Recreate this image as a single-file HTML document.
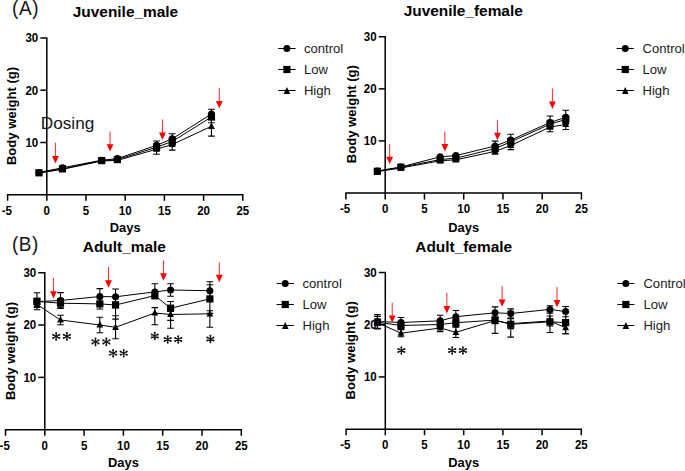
<!DOCTYPE html>
<html><head><meta charset="utf-8"><title>Body weight charts</title>
<style>html,body{margin:0;padding:0;background:#fff;}body{width:685px;height:471px;overflow:hidden;}svg{display:block;font-family:"Liberation Sans", sans-serif;}</style>
</head><body>
<svg width="685" height="471" viewBox="0 0 685 471">
<rect width="685" height="471" fill="#fff"/>
<g><path d="M7.60 200.80V194.80H242.80V200.80" stroke="#000" stroke-width="1.5" fill="none"/><path d="M40.30 37.90H46.80V200.80" stroke="#000" stroke-width="1.5" fill="none"/><path d="M86.00 194.80V200.80" stroke="#000" stroke-width="1.5"/><path d="M125.20 194.80V200.80" stroke="#000" stroke-width="1.5"/><path d="M164.40 194.80V200.80" stroke="#000" stroke-width="1.5"/><path d="M203.60 194.80V200.80" stroke="#000" stroke-width="1.5"/><path d="M40.30 142.50H46.80" stroke="#000" stroke-width="1.5"/><path d="M40.30 90.20H46.80" stroke="#000" stroke-width="1.5"/><text transform="translate(6.80 214.60) scale(0.900 1)" font-size="12.8" font-weight="bold" text-anchor="middle" fill="#000">-5</text><text transform="translate(46.80 214.60) scale(0.900 1)" font-size="12.8" font-weight="bold" text-anchor="middle" fill="#000">0</text><text transform="translate(86.00 214.60) scale(0.900 1)" font-size="12.8" font-weight="bold" text-anchor="middle" fill="#000">5</text><text transform="translate(125.20 214.60) scale(0.900 1)" font-size="12.8" font-weight="bold" text-anchor="middle" fill="#000">10</text><text transform="translate(164.40 214.60) scale(0.900 1)" font-size="12.8" font-weight="bold" text-anchor="middle" fill="#000">15</text><text transform="translate(203.60 214.60) scale(0.900 1)" font-size="12.8" font-weight="bold" text-anchor="middle" fill="#000">20</text><text transform="translate(242.80 214.60) scale(0.900 1)" font-size="12.8" font-weight="bold" text-anchor="middle" fill="#000">25</text><text transform="translate(38.20 146.80) scale(0.900 1)" font-size="12.8" font-weight="bold" text-anchor="end" fill="#000">10</text><text transform="translate(38.20 94.50) scale(0.900 1)" font-size="12.8" font-weight="bold" text-anchor="end" fill="#000">20</text><text transform="translate(38.20 42.20) scale(0.900 1)" font-size="12.8" font-weight="bold" text-anchor="end" fill="#000">30</text><text transform="translate(125.20 232.40)" font-size="12.9" font-weight="bold" text-anchor="middle" fill="#000">Days</text><text transform="translate(16.10 116.00) rotate(-90)" font-size="13.1" font-weight="bold" text-anchor="middle" fill="#000">Body weight (g)</text><text transform="translate(72.80 16.60) scale(1.015 1)" font-size="15.2" font-weight="bold" fill="#000">Juvenile_male</text><text transform="translate(12.10 14.80) scale(0.950 1)" font-size="20" letter-spacing="0.55" fill="#151515">(A)</text><polyline points="38.96,172.40 62.48,167.80 101.68,160.20 117.36,158.60 156.56,145.30 172.24,138.80 211.44,114.00" stroke="#000" stroke-width="1.0" fill="none"/><polyline points="38.96,172.80 62.48,168.90 101.68,160.60 117.36,159.60 156.56,147.20 172.24,141.50 211.44,117.00" stroke="#000" stroke-width="1.0" fill="none"/><polyline points="38.96,173.00 62.48,169.30 101.68,161.00 117.36,160.40 156.56,149.20 172.24,144.50 211.44,126.30" stroke="#000" stroke-width="1.0" fill="none"/><path d="M156.56 141.00V145.30M153.26 141.00H159.86" stroke="#000" stroke-width="1.1" fill="none"/><path d="M156.56 145.30V149.60M153.26 149.60H159.86" stroke="#000" stroke-width="1.1" fill="none"/><path d="M172.24 133.80V138.80M168.94 133.80H175.54" stroke="#000" stroke-width="1.1" fill="none"/><path d="M172.24 138.80V143.80M168.94 143.80H175.54" stroke="#000" stroke-width="1.1" fill="none"/><path d="M211.44 109.30V114.00M208.14 109.30H214.74" stroke="#000" stroke-width="1.1" fill="none"/><path d="M211.44 114.00V118.70M208.14 118.70H214.74" stroke="#000" stroke-width="1.1" fill="none"/><path d="M156.56 143.70V147.20M153.26 143.70H159.86" stroke="#000" stroke-width="1.1" fill="none"/><path d="M156.56 147.20V150.70M153.26 150.70H159.86" stroke="#000" stroke-width="1.1" fill="none"/><path d="M172.24 137.50V141.50M168.94 137.50H175.54" stroke="#000" stroke-width="1.1" fill="none"/><path d="M172.24 141.50V145.50M168.94 145.50H175.54" stroke="#000" stroke-width="1.1" fill="none"/><path d="M211.44 113.50V117.00M208.14 113.50H214.74" stroke="#000" stroke-width="1.1" fill="none"/><path d="M211.44 117.00V122.70M208.14 122.70H214.74" stroke="#000" stroke-width="1.1" fill="none"/><path d="M156.56 144.20V149.20M153.26 144.20H159.86" stroke="#000" stroke-width="1.1" fill="none"/><path d="M156.56 149.20V154.20M153.26 154.20H159.86" stroke="#000" stroke-width="1.1" fill="none"/><path d="M172.24 138.90V144.50M168.94 138.90H175.54" stroke="#000" stroke-width="1.1" fill="none"/><path d="M172.24 144.50V150.10M168.94 150.10H175.54" stroke="#000" stroke-width="1.1" fill="none"/><path d="M211.44 116.50V126.30M208.14 116.50H214.74" stroke="#000" stroke-width="1.1" fill="none"/><path d="M211.44 126.30V136.10M208.14 136.10H214.74" stroke="#000" stroke-width="1.1" fill="none"/><path d="M38.96 169.10 L42.36 175.60 L35.56 175.60Z" fill="#000"/><path d="M62.48 165.40 L65.88 171.90 L59.08 171.90Z" fill="#000"/><path d="M101.68 157.10 L105.08 163.60 L98.28 163.60Z" fill="#000"/><path d="M117.36 156.50 L120.76 163.00 L113.96 163.00Z" fill="#000"/><path d="M156.56 145.30 L159.96 151.80 L153.16 151.80Z" fill="#000"/><path d="M172.24 140.60 L175.64 147.10 L168.84 147.10Z" fill="#000"/><path d="M211.44 122.40 L214.84 128.90 L208.04 128.90Z" fill="#000"/><rect x="35.36" y="169.20" width="7.2" height="7.2" fill="#000"/><rect x="58.88" y="165.30" width="7.2" height="7.2" fill="#000"/><rect x="98.08" y="157.00" width="7.2" height="7.2" fill="#000"/><rect x="113.76" y="156.00" width="7.2" height="7.2" fill="#000"/><rect x="152.96" y="143.60" width="7.2" height="7.2" fill="#000"/><rect x="168.64" y="137.90" width="7.2" height="7.2" fill="#000"/><rect x="207.84" y="113.40" width="7.2" height="7.2" fill="#000"/><circle cx="38.96" cy="172.40" r="3.50" fill="#000"/><circle cx="62.48" cy="167.80" r="3.50" fill="#000"/><circle cx="101.68" cy="160.20" r="3.50" fill="#000"/><circle cx="117.36" cy="158.60" r="3.50" fill="#000"/><circle cx="156.56" cy="145.30" r="3.50" fill="#000"/><circle cx="172.24" cy="138.80" r="3.50" fill="#000"/><circle cx="211.44" cy="114.00" r="3.50" fill="#000"/><path d="M55.42 142.80V157.60" stroke="#ff0000" stroke-width="0.85"/><path d="M52.02 156.00H58.82L55.42 163.40Z" fill="#ff0000"/><path d="M110.07 131.50V145.80" stroke="#ff0000" stroke-width="0.85"/><path d="M106.67 144.20H113.47L110.07 151.60Z" fill="#ff0000"/><path d="M162.44 119.50V134.00" stroke="#ff0000" stroke-width="0.85"/><path d="M159.04 132.40H165.84L162.44 139.80Z" fill="#ff0000"/><path d="M219.28 88.20V102.50" stroke="#ff0000" stroke-width="0.85"/><path d="M215.88 100.90H222.68L219.28 108.30Z" fill="#ff0000"/><path d="M278.20 48.50H295.60" stroke="#000" stroke-width="1.0"/><circle cx="286.90" cy="48.50" r="3.50" fill="#000"/><text transform="translate(303.90 53.30)" font-size="13.1" fill="#1a1a1a">control</text><path d="M278.20 69.50H295.60" stroke="#000" stroke-width="1.0"/><rect x="283.30" y="65.90" width="7.2" height="7.2" fill="#000"/><text transform="translate(303.90 74.30)" font-size="13.1" fill="#1a1a1a">Low</text><path d="M278.20 90.50H295.60" stroke="#000" stroke-width="1.0"/><path d="M286.90 87.00 L290.20 93.90 L283.60 93.90Z" fill="#000"/><text transform="translate(303.90 95.30)" font-size="13.1" fill="#1a1a1a">High</text><text transform="translate(40.80 129.10)" font-size="17.2" fill="#151515">Dosing</text></g>
<g><path d="M345.95 199.60V193.00H581.45V199.60" stroke="#000" stroke-width="1.5" fill="none"/><path d="M378.70 36.80H385.20V199.60" stroke="#000" stroke-width="1.5" fill="none"/><path d="M424.45 193.00V199.60" stroke="#000" stroke-width="1.5"/><path d="M463.70 193.00V199.60" stroke="#000" stroke-width="1.5"/><path d="M502.95 193.00V199.60" stroke="#000" stroke-width="1.5"/><path d="M542.20 193.00V199.60" stroke="#000" stroke-width="1.5"/><path d="M378.70 140.93H385.20" stroke="#000" stroke-width="1.5"/><path d="M378.70 88.87H385.20" stroke="#000" stroke-width="1.5"/><text transform="translate(345.15 212.80) scale(0.900 1)" font-size="12.8" font-weight="bold" text-anchor="middle" fill="#000">-5</text><text transform="translate(385.20 212.80) scale(0.900 1)" font-size="12.8" font-weight="bold" text-anchor="middle" fill="#000">0</text><text transform="translate(424.45 212.80) scale(0.900 1)" font-size="12.8" font-weight="bold" text-anchor="middle" fill="#000">5</text><text transform="translate(463.70 212.80) scale(0.900 1)" font-size="12.8" font-weight="bold" text-anchor="middle" fill="#000">10</text><text transform="translate(502.95 212.80) scale(0.900 1)" font-size="12.8" font-weight="bold" text-anchor="middle" fill="#000">15</text><text transform="translate(542.20 212.80) scale(0.900 1)" font-size="12.8" font-weight="bold" text-anchor="middle" fill="#000">20</text><text transform="translate(581.45 212.80) scale(0.900 1)" font-size="12.8" font-weight="bold" text-anchor="middle" fill="#000">25</text><text transform="translate(376.60 145.23) scale(0.900 1)" font-size="12.8" font-weight="bold" text-anchor="end" fill="#000">10</text><text transform="translate(376.60 93.17) scale(0.900 1)" font-size="12.8" font-weight="bold" text-anchor="end" fill="#000">20</text><text transform="translate(376.60 41.10) scale(0.900 1)" font-size="12.8" font-weight="bold" text-anchor="end" fill="#000">30</text><text transform="translate(463.70 231.80)" font-size="12.9" font-weight="bold" text-anchor="middle" fill="#000">Days</text><text transform="translate(355.70 114.20) rotate(-90)" font-size="13.1" font-weight="bold" text-anchor="middle" fill="#000">Body weight (g)</text><text transform="translate(403.70 16.40) scale(1.015 1)" font-size="15.2" font-weight="bold" fill="#000">Juvenile_female</text><polyline points="377.35,171.00 400.90,167.00 440.15,156.80 455.85,155.60 495.10,146.00 510.80,140.00 550.05,122.50 565.75,117.30" stroke="#000" stroke-width="1.0" fill="none"/><polyline points="377.35,171.30 400.90,167.20 440.15,159.60 455.85,158.20 495.10,148.50 510.80,141.80 550.05,124.20 565.75,119.50" stroke="#000" stroke-width="1.0" fill="none"/><polyline points="377.35,171.60 400.90,168.00 440.15,160.80 455.85,159.80 495.10,151.40 510.80,145.50 550.05,127.00 565.75,124.50" stroke="#000" stroke-width="1.0" fill="none"/><path d="M495.10 141.10V146.00M491.80 141.10H498.40" stroke="#000" stroke-width="1.1" fill="none"/><path d="M495.10 146.00V150.90M491.80 150.90H498.40" stroke="#000" stroke-width="1.1" fill="none"/><path d="M510.80 134.30V140.00M507.50 134.30H514.10" stroke="#000" stroke-width="1.1" fill="none"/><path d="M510.80 140.00V145.70M507.50 145.70H514.10" stroke="#000" stroke-width="1.1" fill="none"/><path d="M550.05 116.00V122.50M546.75 116.00H553.35" stroke="#000" stroke-width="1.1" fill="none"/><path d="M550.05 122.50V129.00M546.75 129.00H553.35" stroke="#000" stroke-width="1.1" fill="none"/><path d="M565.75 110.30V117.30M562.45 110.30H569.05" stroke="#000" stroke-width="1.1" fill="none"/><path d="M565.75 117.30V124.30M562.45 124.30H569.05" stroke="#000" stroke-width="1.1" fill="none"/><path d="M495.10 145.50V148.50M491.80 145.50H498.40" stroke="#000" stroke-width="1.1" fill="none"/><path d="M495.10 148.50V151.50M491.80 151.50H498.40" stroke="#000" stroke-width="1.1" fill="none"/><path d="M510.80 138.80V141.80M507.50 138.80H514.10" stroke="#000" stroke-width="1.1" fill="none"/><path d="M510.80 141.80V144.80M507.50 144.80H514.10" stroke="#000" stroke-width="1.1" fill="none"/><path d="M550.05 120.20V124.20M546.75 120.20H553.35" stroke="#000" stroke-width="1.1" fill="none"/><path d="M550.05 124.20V128.20M546.75 128.20H553.35" stroke="#000" stroke-width="1.1" fill="none"/><path d="M565.75 115.50V119.50M562.45 115.50H569.05" stroke="#000" stroke-width="1.1" fill="none"/><path d="M565.75 119.50V123.50M562.45 123.50H569.05" stroke="#000" stroke-width="1.1" fill="none"/><path d="M495.10 148.50V151.40M491.80 148.50H498.40" stroke="#000" stroke-width="1.1" fill="none"/><path d="M495.10 151.40V154.30M491.80 154.30H498.40" stroke="#000" stroke-width="1.1" fill="none"/><path d="M510.80 141.40V145.50M507.50 141.40H514.10" stroke="#000" stroke-width="1.1" fill="none"/><path d="M510.80 145.50V149.60M507.50 149.60H514.10" stroke="#000" stroke-width="1.1" fill="none"/><path d="M550.05 122.20V127.00M546.75 122.20H553.35" stroke="#000" stroke-width="1.1" fill="none"/><path d="M550.05 127.00V131.80M546.75 131.80H553.35" stroke="#000" stroke-width="1.1" fill="none"/><path d="M565.75 119.50V124.50M562.45 119.50H569.05" stroke="#000" stroke-width="1.1" fill="none"/><path d="M565.75 124.50V129.50M562.45 129.50H569.05" stroke="#000" stroke-width="1.1" fill="none"/><path d="M377.35 167.70 L380.75 174.20 L373.95 174.20Z" fill="#000"/><path d="M400.90 164.10 L404.30 170.60 L397.50 170.60Z" fill="#000"/><path d="M440.15 156.90 L443.55 163.40 L436.75 163.40Z" fill="#000"/><path d="M455.85 155.90 L459.25 162.40 L452.45 162.40Z" fill="#000"/><path d="M495.10 147.50 L498.50 154.00 L491.70 154.00Z" fill="#000"/><path d="M510.80 141.60 L514.20 148.10 L507.40 148.10Z" fill="#000"/><path d="M550.05 123.10 L553.45 129.60 L546.65 129.60Z" fill="#000"/><path d="M565.75 120.60 L569.15 127.10 L562.35 127.10Z" fill="#000"/><rect x="373.75" y="167.70" width="7.2" height="7.2" fill="#000"/><rect x="397.30" y="163.60" width="7.2" height="7.2" fill="#000"/><rect x="436.55" y="156.00" width="7.2" height="7.2" fill="#000"/><rect x="452.25" y="154.60" width="7.2" height="7.2" fill="#000"/><rect x="491.50" y="144.90" width="7.2" height="7.2" fill="#000"/><rect x="507.20" y="138.20" width="7.2" height="7.2" fill="#000"/><rect x="546.45" y="120.60" width="7.2" height="7.2" fill="#000"/><rect x="562.15" y="115.90" width="7.2" height="7.2" fill="#000"/><circle cx="377.35" cy="171.00" r="3.50" fill="#000"/><circle cx="400.90" cy="167.00" r="3.50" fill="#000"/><circle cx="440.15" cy="156.80" r="3.50" fill="#000"/><circle cx="455.85" cy="155.60" r="3.50" fill="#000"/><circle cx="495.10" cy="146.00" r="3.50" fill="#000"/><circle cx="510.80" cy="140.00" r="3.50" fill="#000"/><circle cx="550.05" cy="122.50" r="3.50" fill="#000"/><circle cx="565.75" cy="117.30" r="3.50" fill="#000"/><path d="M389.67 143.90V158.30" stroke="#ff0000" stroke-width="0.85"/><path d="M386.27 156.70H393.07L389.67 164.10Z" fill="#ff0000"/><path d="M444.86 131.50V145.60" stroke="#ff0000" stroke-width="0.85"/><path d="M441.46 144.00H448.26L444.86 151.40Z" fill="#ff0000"/><path d="M497.45 120.20V134.30" stroke="#ff0000" stroke-width="0.85"/><path d="M494.06 132.70H500.85L497.45 140.10Z" fill="#ff0000"/><path d="M552.40 88.60V103.20" stroke="#ff0000" stroke-width="0.85"/><path d="M549.00 101.60H555.80L552.40 109.00Z" fill="#ff0000"/><path d="M616.60 48.50H633.90" stroke="#000" stroke-width="1.0"/><circle cx="625.25" cy="48.50" r="3.50" fill="#000"/><text transform="translate(642.50 53.30)" font-size="13.1" fill="#1a1a1a">Control</text><path d="M616.60 69.50H633.90" stroke="#000" stroke-width="1.0"/><rect x="621.65" y="65.90" width="7.2" height="7.2" fill="#000"/><text transform="translate(642.50 74.30)" font-size="13.1" fill="#1a1a1a">Low</text><path d="M616.60 90.50H633.90" stroke="#000" stroke-width="1.0"/><path d="M625.25 87.00 L628.55 93.90 L621.95 93.90Z" fill="#000"/><text transform="translate(642.50 95.30)" font-size="13.1" fill="#1a1a1a">High</text></g>
<g><path d="M5.50 435.70V429.70H241.30V435.70" stroke="#000" stroke-width="1.5" fill="none"/><path d="M38.30 272.70H44.80V435.70" stroke="#000" stroke-width="1.5" fill="none"/><path d="M84.10 429.70V435.70" stroke="#000" stroke-width="1.5"/><path d="M123.40 429.70V435.70" stroke="#000" stroke-width="1.5"/><path d="M162.70 429.70V435.70" stroke="#000" stroke-width="1.5"/><path d="M202.00 429.70V435.70" stroke="#000" stroke-width="1.5"/><path d="M38.30 377.37H44.80" stroke="#000" stroke-width="1.5"/><path d="M38.30 325.03H44.80" stroke="#000" stroke-width="1.5"/><text transform="translate(4.70 449.50) scale(0.900 1)" font-size="12.8" font-weight="bold" text-anchor="middle" fill="#000">-5</text><text transform="translate(44.80 449.50) scale(0.900 1)" font-size="12.8" font-weight="bold" text-anchor="middle" fill="#000">0</text><text transform="translate(84.10 449.50) scale(0.900 1)" font-size="12.8" font-weight="bold" text-anchor="middle" fill="#000">5</text><text transform="translate(123.40 449.50) scale(0.900 1)" font-size="12.8" font-weight="bold" text-anchor="middle" fill="#000">10</text><text transform="translate(162.70 449.50) scale(0.900 1)" font-size="12.8" font-weight="bold" text-anchor="middle" fill="#000">15</text><text transform="translate(202.00 449.50) scale(0.900 1)" font-size="12.8" font-weight="bold" text-anchor="middle" fill="#000">20</text><text transform="translate(241.30 449.50) scale(0.900 1)" font-size="12.8" font-weight="bold" text-anchor="middle" fill="#000">25</text><text transform="translate(36.20 381.67) scale(0.900 1)" font-size="12.8" font-weight="bold" text-anchor="end" fill="#000">10</text><text transform="translate(36.20 329.33) scale(0.900 1)" font-size="12.8" font-weight="bold" text-anchor="end" fill="#000">20</text><text transform="translate(36.20 277.00) scale(0.900 1)" font-size="12.8" font-weight="bold" text-anchor="end" fill="#000">30</text><text transform="translate(123.40 467.30)" font-size="12.9" font-weight="bold" text-anchor="middle" fill="#000">Days</text><text transform="translate(15.30 351.00) rotate(-90)" font-size="13.1" font-weight="bold" text-anchor="middle" fill="#000">Body weight (g)</text><text transform="translate(82.80 251.50) scale(1.015 1)" font-size="15.2" font-weight="bold" fill="#000">Adult_male</text><text transform="translate(11.90 251.00) scale(0.950 1)" font-size="20" letter-spacing="0.55" fill="#151515">(B)</text><polyline points="36.94,301.60 60.52,300.50 99.82,296.50 115.54,296.80 154.84,291.90 170.56,290.00 209.86,290.70" stroke="#000" stroke-width="1.0" fill="none"/><polyline points="36.94,301.40 60.52,303.20 99.82,303.90 115.54,305.00 154.84,295.60 170.56,308.20 209.86,298.90" stroke="#000" stroke-width="1.0" fill="none"/><polyline points="36.94,304.40 60.52,320.00 99.82,325.00 115.54,327.30 154.84,313.00 170.56,314.50 209.86,313.80" stroke="#000" stroke-width="1.0" fill="none"/><path d="M36.94 292.70V301.60M33.64 292.70H40.24" stroke="#000" stroke-width="1.1" fill="none"/><path d="M36.94 301.60V304.60M33.64 304.60H40.24" stroke="#000" stroke-width="1.1" fill="none"/><path d="M60.52 292.60V300.50M57.22 292.60H63.82" stroke="#000" stroke-width="1.1" fill="none"/><path d="M60.52 300.50V308.40M57.22 308.40H63.82" stroke="#000" stroke-width="1.1" fill="none"/><path d="M99.82 288.60V296.50M96.52 288.60H103.12" stroke="#000" stroke-width="1.1" fill="none"/><path d="M99.82 296.50V304.40M96.52 304.40H103.12" stroke="#000" stroke-width="1.1" fill="none"/><path d="M115.54 289.00V296.80M112.24 289.00H118.84" stroke="#000" stroke-width="1.1" fill="none"/><path d="M115.54 296.80V304.60M112.24 304.60H118.84" stroke="#000" stroke-width="1.1" fill="none"/><path d="M154.84 283.70V291.90M151.54 283.70H158.14" stroke="#000" stroke-width="1.1" fill="none"/><path d="M154.84 291.90V295.90M151.54 295.90H158.14" stroke="#000" stroke-width="1.1" fill="none"/><path d="M170.56 283.70V290.00M167.26 283.70H173.86" stroke="#000" stroke-width="1.1" fill="none"/><path d="M170.56 290.00V296.30M167.26 296.30H173.86" stroke="#000" stroke-width="1.1" fill="none"/><path d="M209.86 281.80V290.70M206.56 281.80H213.16" stroke="#000" stroke-width="1.1" fill="none"/><path d="M209.86 290.70V299.60M206.56 299.60H213.16" stroke="#000" stroke-width="1.1" fill="none"/><path d="M36.94 298.40V301.40M33.64 298.40H40.24" stroke="#000" stroke-width="1.1" fill="none"/><path d="M36.94 301.40V309.80M33.64 309.80H40.24" stroke="#000" stroke-width="1.1" fill="none"/><path d="M60.52 298.60V303.20M57.22 298.60H63.82" stroke="#000" stroke-width="1.1" fill="none"/><path d="M60.52 303.20V307.80M57.22 307.80H63.82" stroke="#000" stroke-width="1.1" fill="none"/><path d="M99.82 298.80V303.90M96.52 298.80H103.12" stroke="#000" stroke-width="1.1" fill="none"/><path d="M99.82 303.90V309.00M96.52 309.00H103.12" stroke="#000" stroke-width="1.1" fill="none"/><path d="M115.54 302.00V305.00M112.24 302.00H118.84" stroke="#000" stroke-width="1.1" fill="none"/><path d="M115.54 305.00V319.10M112.24 319.10H118.84" stroke="#000" stroke-width="1.1" fill="none"/><path d="M154.84 292.60V295.60M151.54 292.60H158.14" stroke="#000" stroke-width="1.1" fill="none"/><path d="M154.84 295.60V298.60M151.54 298.60H158.14" stroke="#000" stroke-width="1.1" fill="none"/><path d="M170.56 301.50V308.20M167.26 301.50H173.86" stroke="#000" stroke-width="1.1" fill="none"/><path d="M170.56 308.20V320.40M167.26 320.40H173.86" stroke="#000" stroke-width="1.1" fill="none"/><path d="M209.86 284.70V298.90M206.56 284.70H213.16" stroke="#000" stroke-width="1.1" fill="none"/><path d="M209.86 298.90V313.40M206.56 313.40H213.16" stroke="#000" stroke-width="1.1" fill="none"/><path d="M36.94 301.40V304.40M33.64 301.40H40.24" stroke="#000" stroke-width="1.1" fill="none"/><path d="M36.94 304.40V307.40M33.64 307.40H40.24" stroke="#000" stroke-width="1.1" fill="none"/><path d="M60.52 315.20V320.00M57.22 315.20H63.82" stroke="#000" stroke-width="1.1" fill="none"/><path d="M60.52 320.00V324.80M57.22 324.80H63.82" stroke="#000" stroke-width="1.1" fill="none"/><path d="M99.82 317.30V325.00M96.52 317.30H103.12" stroke="#000" stroke-width="1.1" fill="none"/><path d="M99.82 325.00V332.70M96.52 332.70H103.12" stroke="#000" stroke-width="1.1" fill="none"/><path d="M115.54 315.80V327.30M112.24 315.80H118.84" stroke="#000" stroke-width="1.1" fill="none"/><path d="M115.54 327.30V338.80M112.24 338.80H118.84" stroke="#000" stroke-width="1.1" fill="none"/><path d="M154.84 307.60V313.00M151.54 307.60H158.14" stroke="#000" stroke-width="1.1" fill="none"/><path d="M154.84 313.00V324.80M151.54 324.80H158.14" stroke="#000" stroke-width="1.1" fill="none"/><path d="M170.56 311.50V314.50M167.26 311.50H173.86" stroke="#000" stroke-width="1.1" fill="none"/><path d="M170.56 314.50V328.20M167.26 328.20H173.86" stroke="#000" stroke-width="1.1" fill="none"/><path d="M209.86 310.80V313.80M206.56 310.80H213.16" stroke="#000" stroke-width="1.1" fill="none"/><path d="M209.86 313.80V327.30M206.56 327.30H213.16" stroke="#000" stroke-width="1.1" fill="none"/><path d="M36.94 300.50 L40.34 307.00 L33.54 307.00Z" fill="#000"/><path d="M60.52 316.10 L63.92 322.60 L57.12 322.60Z" fill="#000"/><path d="M99.82 321.10 L103.22 327.60 L96.42 327.60Z" fill="#000"/><path d="M115.54 323.40 L118.94 329.90 L112.14 329.90Z" fill="#000"/><path d="M154.84 309.10 L158.24 315.60 L151.44 315.60Z" fill="#000"/><path d="M170.56 310.60 L173.96 317.10 L167.16 317.10Z" fill="#000"/><path d="M209.86 309.90 L213.26 316.40 L206.46 316.40Z" fill="#000"/><rect x="33.34" y="297.80" width="7.2" height="7.2" fill="#000"/><rect x="56.92" y="299.60" width="7.2" height="7.2" fill="#000"/><rect x="96.22" y="300.30" width="7.2" height="7.2" fill="#000"/><rect x="111.94" y="301.40" width="7.2" height="7.2" fill="#000"/><rect x="151.24" y="292.00" width="7.2" height="7.2" fill="#000"/><rect x="166.96" y="304.60" width="7.2" height="7.2" fill="#000"/><rect x="206.26" y="295.30" width="7.2" height="7.2" fill="#000"/><circle cx="36.94" cy="301.60" r="3.50" fill="#000"/><circle cx="60.52" cy="300.50" r="3.50" fill="#000"/><circle cx="99.82" cy="296.50" r="3.50" fill="#000"/><circle cx="115.54" cy="296.80" r="3.50" fill="#000"/><circle cx="154.84" cy="291.90" r="3.50" fill="#000"/><circle cx="170.56" cy="290.00" r="3.50" fill="#000"/><circle cx="209.86" cy="290.70" r="3.50" fill="#000"/><path d="M53.45 277.80V292.80" stroke="#ff0000" stroke-width="0.85"/><path d="M50.05 291.20H56.85L53.45 298.60Z" fill="#ff0000"/><path d="M108.47 267.00V281.90" stroke="#ff0000" stroke-width="0.85"/><path d="M105.07 280.30H111.87L108.47 287.70Z" fill="#ff0000"/><path d="M163.49 260.70V274.90" stroke="#ff0000" stroke-width="0.85"/><path d="M160.09 273.30H166.89L163.49 280.70Z" fill="#ff0000"/><path d="M219.29 262.60V276.40" stroke="#ff0000" stroke-width="0.85"/><path d="M215.89 274.80H222.69L219.29 282.20Z" fill="#ff0000"/><g fill="#15151c"><path d="M56.20 336.40L56.20 333.10M56.20 336.40L56.20 339.70M56.20 336.40L59.32 334.81M56.20 336.40L53.08 334.81M56.20 336.40L59.32 337.99M56.20 336.40L53.08 337.99" stroke="#15151c" stroke-width="1.25" fill="none"/><circle cx="56.20" cy="333.10" r="1.0"/><circle cx="56.20" cy="339.70" r="1.0"/><circle cx="59.32" cy="334.81" r="1.0"/><circle cx="53.08" cy="334.81" r="1.0"/><circle cx="59.32" cy="337.99" r="1.0"/><circle cx="53.08" cy="337.99" r="1.0"/></g><g fill="#15151c"><path d="M66.90 336.40L66.90 333.10M66.90 336.40L66.90 339.70M66.90 336.40L70.02 334.81M66.90 336.40L63.78 334.81M66.90 336.40L70.02 337.99M66.90 336.40L63.78 337.99" stroke="#15151c" stroke-width="1.25" fill="none"/><circle cx="66.90" cy="333.10" r="1.0"/><circle cx="66.90" cy="339.70" r="1.0"/><circle cx="70.02" cy="334.81" r="1.0"/><circle cx="63.78" cy="334.81" r="1.0"/><circle cx="70.02" cy="337.99" r="1.0"/><circle cx="63.78" cy="337.99" r="1.0"/></g><g fill="#15151c"><path d="M95.50 341.90L95.50 338.60M95.50 341.90L95.50 345.20M95.50 341.90L98.62 340.31M95.50 341.90L92.38 340.31M95.50 341.90L98.62 343.49M95.50 341.90L92.38 343.49" stroke="#15151c" stroke-width="1.25" fill="none"/><circle cx="95.50" cy="338.60" r="1.0"/><circle cx="95.50" cy="345.20" r="1.0"/><circle cx="98.62" cy="340.31" r="1.0"/><circle cx="92.38" cy="340.31" r="1.0"/><circle cx="98.62" cy="343.49" r="1.0"/><circle cx="92.38" cy="343.49" r="1.0"/></g><g fill="#15151c"><path d="M106.30 341.90L106.30 338.60M106.30 341.90L106.30 345.20M106.30 341.90L109.42 340.31M106.30 341.90L103.18 340.31M106.30 341.90L109.42 343.49M106.30 341.90L103.18 343.49" stroke="#15151c" stroke-width="1.25" fill="none"/><circle cx="106.30" cy="338.60" r="1.0"/><circle cx="106.30" cy="345.20" r="1.0"/><circle cx="109.42" cy="340.31" r="1.0"/><circle cx="103.18" cy="340.31" r="1.0"/><circle cx="109.42" cy="343.49" r="1.0"/><circle cx="103.18" cy="343.49" r="1.0"/></g><g fill="#15151c"><path d="M113.10 353.20L113.10 349.90M113.10 353.20L113.10 356.50M113.10 353.20L116.22 351.61M113.10 353.20L109.98 351.61M113.10 353.20L116.22 354.79M113.10 353.20L109.98 354.79" stroke="#15151c" stroke-width="1.25" fill="none"/><circle cx="113.10" cy="349.90" r="1.0"/><circle cx="113.10" cy="356.50" r="1.0"/><circle cx="116.22" cy="351.61" r="1.0"/><circle cx="109.98" cy="351.61" r="1.0"/><circle cx="116.22" cy="354.79" r="1.0"/><circle cx="109.98" cy="354.79" r="1.0"/></g><g fill="#15151c"><path d="M123.70 353.20L123.70 349.90M123.70 353.20L123.70 356.50M123.70 353.20L126.82 351.61M123.70 353.20L120.58 351.61M123.70 353.20L126.82 354.79M123.70 353.20L120.58 354.79" stroke="#15151c" stroke-width="1.25" fill="none"/><circle cx="123.70" cy="349.90" r="1.0"/><circle cx="123.70" cy="356.50" r="1.0"/><circle cx="126.82" cy="351.61" r="1.0"/><circle cx="120.58" cy="351.61" r="1.0"/><circle cx="126.82" cy="354.79" r="1.0"/><circle cx="120.58" cy="354.79" r="1.0"/></g><g fill="#15151c"><path d="M154.80 336.00L154.80 332.70M154.80 336.00L154.80 339.30M154.80 336.00L157.92 334.41M154.80 336.00L151.68 334.41M154.80 336.00L157.92 337.59M154.80 336.00L151.68 337.59" stroke="#15151c" stroke-width="1.25" fill="none"/><circle cx="154.80" cy="332.70" r="1.0"/><circle cx="154.80" cy="339.30" r="1.0"/><circle cx="157.92" cy="334.41" r="1.0"/><circle cx="151.68" cy="334.41" r="1.0"/><circle cx="157.92" cy="337.59" r="1.0"/><circle cx="151.68" cy="337.59" r="1.0"/></g><g fill="#15151c"><path d="M167.70 339.50L167.70 336.20M167.70 339.50L167.70 342.80M167.70 339.50L170.82 337.91M167.70 339.50L164.58 337.91M167.70 339.50L170.82 341.09M167.70 339.50L164.58 341.09" stroke="#15151c" stroke-width="1.25" fill="none"/><circle cx="167.70" cy="336.20" r="1.0"/><circle cx="167.70" cy="342.80" r="1.0"/><circle cx="170.82" cy="337.91" r="1.0"/><circle cx="164.58" cy="337.91" r="1.0"/><circle cx="170.82" cy="341.09" r="1.0"/><circle cx="164.58" cy="341.09" r="1.0"/></g><g fill="#15151c"><path d="M178.20 339.50L178.20 336.20M178.20 339.50L178.20 342.80M178.20 339.50L181.32 337.91M178.20 339.50L175.08 337.91M178.20 339.50L181.32 341.09M178.20 339.50L175.08 341.09" stroke="#15151c" stroke-width="1.25" fill="none"/><circle cx="178.20" cy="336.20" r="1.0"/><circle cx="178.20" cy="342.80" r="1.0"/><circle cx="181.32" cy="337.91" r="1.0"/><circle cx="175.08" cy="337.91" r="1.0"/><circle cx="181.32" cy="341.09" r="1.0"/><circle cx="175.08" cy="341.09" r="1.0"/></g><g fill="#15151c"><path d="M210.40 339.00L210.40 335.70M210.40 339.00L210.40 342.30M210.40 339.00L213.52 337.41M210.40 339.00L207.28 337.41M210.40 339.00L213.52 340.59M210.40 339.00L207.28 340.59" stroke="#15151c" stroke-width="1.25" fill="none"/><circle cx="210.40" cy="335.70" r="1.0"/><circle cx="210.40" cy="342.30" r="1.0"/><circle cx="213.52" cy="337.41" r="1.0"/><circle cx="207.28" cy="337.41" r="1.0"/><circle cx="213.52" cy="340.59" r="1.0"/><circle cx="207.28" cy="340.59" r="1.0"/></g><path d="M276.60 283.50H293.90" stroke="#000" stroke-width="1.0"/><circle cx="285.25" cy="283.50" r="3.50" fill="#000"/><text transform="translate(302.50 288.30)" font-size="13.1" fill="#1a1a1a">control</text><path d="M276.60 304.50H293.90" stroke="#000" stroke-width="1.0"/><rect x="281.65" y="300.90" width="7.2" height="7.2" fill="#000"/><text transform="translate(302.50 309.30)" font-size="13.1" fill="#1a1a1a">Low</text><path d="M276.60 325.50H293.90" stroke="#000" stroke-width="1.0"/><path d="M285.25 322.00 L288.55 328.90 L281.95 328.90Z" fill="#000"/><text transform="translate(302.50 330.30)" font-size="13.1" fill="#1a1a1a">High</text></g>
<g><path d="M346.10 435.20V429.20H581.30V435.20" stroke="#000" stroke-width="1.5" fill="none"/><path d="M378.80 272.40H385.30V435.20" stroke="#000" stroke-width="1.5" fill="none"/><path d="M424.50 429.20V435.20" stroke="#000" stroke-width="1.5"/><path d="M463.70 429.20V435.20" stroke="#000" stroke-width="1.5"/><path d="M502.90 429.20V435.20" stroke="#000" stroke-width="1.5"/><path d="M542.10 429.20V435.20" stroke="#000" stroke-width="1.5"/><path d="M378.80 376.93H385.30" stroke="#000" stroke-width="1.5"/><path d="M378.80 324.67H385.30" stroke="#000" stroke-width="1.5"/><text transform="translate(345.30 449.00) scale(0.900 1)" font-size="12.8" font-weight="bold" text-anchor="middle" fill="#000">-5</text><text transform="translate(385.30 449.00) scale(0.900 1)" font-size="12.8" font-weight="bold" text-anchor="middle" fill="#000">0</text><text transform="translate(424.50 449.00) scale(0.900 1)" font-size="12.8" font-weight="bold" text-anchor="middle" fill="#000">5</text><text transform="translate(463.70 449.00) scale(0.900 1)" font-size="12.8" font-weight="bold" text-anchor="middle" fill="#000">10</text><text transform="translate(502.90 449.00) scale(0.900 1)" font-size="12.8" font-weight="bold" text-anchor="middle" fill="#000">15</text><text transform="translate(542.10 449.00) scale(0.900 1)" font-size="12.8" font-weight="bold" text-anchor="middle" fill="#000">20</text><text transform="translate(581.30 449.00) scale(0.900 1)" font-size="12.8" font-weight="bold" text-anchor="middle" fill="#000">25</text><text transform="translate(376.70 381.23) scale(0.900 1)" font-size="12.8" font-weight="bold" text-anchor="end" fill="#000">10</text><text transform="translate(376.70 328.97) scale(0.900 1)" font-size="12.8" font-weight="bold" text-anchor="end" fill="#000">20</text><text transform="translate(376.70 276.70) scale(0.900 1)" font-size="12.8" font-weight="bold" text-anchor="end" fill="#000">30</text><text transform="translate(463.70 466.80)" font-size="12.9" font-weight="bold" text-anchor="middle" fill="#000">Days</text><text transform="translate(355.30 350.30) rotate(-90)" font-size="13.1" font-weight="bold" text-anchor="middle" fill="#000">Body weight (g)</text><text transform="translate(415.30 251.50) scale(1.015 1)" font-size="15.2" font-weight="bold" fill="#000">Adult_female</text><polyline points="377.46,321.50 400.98,322.50 440.18,320.80 455.86,316.70 495.06,312.80 510.74,313.50 549.94,309.40 565.62,311.60" stroke="#000" stroke-width="1.0" fill="none"/><polyline points="377.46,322.20 400.98,325.50 440.18,324.50 455.86,322.70 495.06,320.10 510.74,324.30 549.94,321.80 565.62,322.60" stroke="#000" stroke-width="1.0" fill="none"/><polyline points="377.46,322.60 400.98,333.20 440.18,328.00 455.86,332.30 495.06,320.60 510.74,323.60 549.94,321.00 565.62,327.70" stroke="#000" stroke-width="1.0" fill="none"/><path d="M377.46 314.50V321.50M374.16 314.50H380.76" stroke="#000" stroke-width="1.1" fill="none"/><path d="M377.46 321.50V328.50M374.16 328.50H380.76" stroke="#000" stroke-width="1.1" fill="none"/><path d="M400.98 317.50V322.50M397.68 317.50H404.28" stroke="#000" stroke-width="1.1" fill="none"/><path d="M400.98 322.50V327.50M397.68 327.50H404.28" stroke="#000" stroke-width="1.1" fill="none"/><path d="M440.18 315.30V320.80M436.88 315.30H443.48" stroke="#000" stroke-width="1.1" fill="none"/><path d="M440.18 320.80V326.30M436.88 326.30H443.48" stroke="#000" stroke-width="1.1" fill="none"/><path d="M455.86 310.50V316.70M452.56 310.50H459.16" stroke="#000" stroke-width="1.1" fill="none"/><path d="M455.86 316.70V322.90M452.56 322.90H459.16" stroke="#000" stroke-width="1.1" fill="none"/><path d="M495.06 306.90V312.80M491.76 306.90H498.36" stroke="#000" stroke-width="1.1" fill="none"/><path d="M495.06 312.80V318.70M491.76 318.70H498.36" stroke="#000" stroke-width="1.1" fill="none"/><path d="M510.74 308.90V313.50M507.44 308.90H514.04" stroke="#000" stroke-width="1.1" fill="none"/><path d="M510.74 313.50V318.10M507.44 318.10H514.04" stroke="#000" stroke-width="1.1" fill="none"/><path d="M549.94 305.70V309.40M546.64 305.70H553.24" stroke="#000" stroke-width="1.1" fill="none"/><path d="M549.94 309.40V313.10M546.64 313.10H553.24" stroke="#000" stroke-width="1.1" fill="none"/><path d="M565.62 306.50V311.60M562.32 306.50H568.92" stroke="#000" stroke-width="1.1" fill="none"/><path d="M565.62 311.60V316.70M562.32 316.70H568.92" stroke="#000" stroke-width="1.1" fill="none"/><path d="M377.46 316.20V322.20M374.16 316.20H380.76" stroke="#000" stroke-width="1.1" fill="none"/><path d="M377.46 322.20V328.20M374.16 328.20H380.76" stroke="#000" stroke-width="1.1" fill="none"/><path d="M400.98 321.50V325.50M397.68 321.50H404.28" stroke="#000" stroke-width="1.1" fill="none"/><path d="M400.98 325.50V329.50M397.68 329.50H404.28" stroke="#000" stroke-width="1.1" fill="none"/><path d="M440.18 320.50V324.50M436.88 320.50H443.48" stroke="#000" stroke-width="1.1" fill="none"/><path d="M440.18 324.50V328.50M436.88 328.50H443.48" stroke="#000" stroke-width="1.1" fill="none"/><path d="M455.86 318.70V322.70M452.56 318.70H459.16" stroke="#000" stroke-width="1.1" fill="none"/><path d="M455.86 322.70V326.70M452.56 326.70H459.16" stroke="#000" stroke-width="1.1" fill="none"/><path d="M495.06 317.10V320.10M491.76 317.10H498.36" stroke="#000" stroke-width="1.1" fill="none"/><path d="M495.06 320.10V333.40M491.76 333.40H498.36" stroke="#000" stroke-width="1.1" fill="none"/><path d="M510.74 311.50V324.30M507.44 311.50H514.04" stroke="#000" stroke-width="1.1" fill="none"/><path d="M510.74 324.30V337.10M507.44 337.10H514.04" stroke="#000" stroke-width="1.1" fill="none"/><path d="M549.94 311.10V321.80M546.64 311.10H553.24" stroke="#000" stroke-width="1.1" fill="none"/><path d="M549.94 321.80V332.50M546.64 332.50H553.24" stroke="#000" stroke-width="1.1" fill="none"/><path d="M565.62 311.50V322.60M562.32 311.50H568.92" stroke="#000" stroke-width="1.1" fill="none"/><path d="M565.62 322.60V333.70M562.32 333.70H568.92" stroke="#000" stroke-width="1.1" fill="none"/><path d="M377.46 316.30V322.60M374.16 316.30H380.76" stroke="#000" stroke-width="1.1" fill="none"/><path d="M377.46 322.60V328.90M374.16 328.90H380.76" stroke="#000" stroke-width="1.1" fill="none"/><path d="M400.98 329.60V333.20M397.68 329.60H404.28" stroke="#000" stroke-width="1.1" fill="none"/><path d="M400.98 333.20V336.80M397.68 336.80H404.28" stroke="#000" stroke-width="1.1" fill="none"/><path d="M440.18 324.40V328.00M436.88 324.40H443.48" stroke="#000" stroke-width="1.1" fill="none"/><path d="M440.18 328.00V331.60M436.88 331.60H443.48" stroke="#000" stroke-width="1.1" fill="none"/><path d="M455.86 327.10V332.30M452.56 327.10H459.16" stroke="#000" stroke-width="1.1" fill="none"/><path d="M455.86 332.30V337.50M452.56 337.50H459.16" stroke="#000" stroke-width="1.1" fill="none"/><path d="M495.06 317.60V320.60M491.76 317.60H498.36" stroke="#000" stroke-width="1.1" fill="none"/><path d="M495.06 320.60V323.60M491.76 323.60H498.36" stroke="#000" stroke-width="1.1" fill="none"/><path d="M510.74 318.60V323.60M507.44 318.60H514.04" stroke="#000" stroke-width="1.1" fill="none"/><path d="M510.74 323.60V328.60M507.44 328.60H514.04" stroke="#000" stroke-width="1.1" fill="none"/><path d="M549.94 316.00V321.00M546.64 316.00H553.24" stroke="#000" stroke-width="1.1" fill="none"/><path d="M549.94 321.00V326.00M546.64 326.00H553.24" stroke="#000" stroke-width="1.1" fill="none"/><path d="M565.62 321.70V327.70M562.32 321.70H568.92" stroke="#000" stroke-width="1.1" fill="none"/><path d="M565.62 327.70V333.70M562.32 333.70H568.92" stroke="#000" stroke-width="1.1" fill="none"/><path d="M377.46 318.70 L380.86 325.20 L374.06 325.20Z" fill="#000"/><path d="M400.98 329.30 L404.38 335.80 L397.58 335.80Z" fill="#000"/><path d="M440.18 324.10 L443.58 330.60 L436.78 330.60Z" fill="#000"/><path d="M455.86 328.40 L459.26 334.90 L452.46 334.90Z" fill="#000"/><path d="M495.06 316.70 L498.46 323.20 L491.66 323.20Z" fill="#000"/><path d="M510.74 319.70 L514.14 326.20 L507.34 326.20Z" fill="#000"/><path d="M549.94 317.10 L553.34 323.60 L546.54 323.60Z" fill="#000"/><path d="M565.62 323.80 L569.02 330.30 L562.22 330.30Z" fill="#000"/><rect x="373.86" y="318.60" width="7.2" height="7.2" fill="#000"/><rect x="397.38" y="321.90" width="7.2" height="7.2" fill="#000"/><rect x="436.58" y="320.90" width="7.2" height="7.2" fill="#000"/><rect x="452.26" y="319.10" width="7.2" height="7.2" fill="#000"/><rect x="491.46" y="316.50" width="7.2" height="7.2" fill="#000"/><rect x="507.14" y="320.70" width="7.2" height="7.2" fill="#000"/><rect x="546.34" y="318.20" width="7.2" height="7.2" fill="#000"/><rect x="562.02" y="319.00" width="7.2" height="7.2" fill="#000"/><circle cx="377.46" cy="321.50" r="3.50" fill="#000"/><circle cx="400.98" cy="322.50" r="3.50" fill="#000"/><circle cx="440.18" cy="320.80" r="3.50" fill="#000"/><circle cx="455.86" cy="316.70" r="3.50" fill="#000"/><circle cx="495.06" cy="312.80" r="3.50" fill="#000"/><circle cx="510.74" cy="313.50" r="3.50" fill="#000"/><circle cx="549.94" cy="309.40" r="3.50" fill="#000"/><circle cx="565.62" cy="311.60" r="3.50" fill="#000"/><path d="M392.20 302.60V317.00" stroke="#ff0000" stroke-width="0.85"/><path d="M388.80 315.40H395.60L392.20 322.80Z" fill="#ff0000"/><path d="M446.84 292.70V307.60" stroke="#ff0000" stroke-width="0.85"/><path d="M443.44 306.00H450.24L446.84 313.40Z" fill="#ff0000"/><path d="M502.12 286.10V301.00" stroke="#ff0000" stroke-width="0.85"/><path d="M498.72 299.40H505.52L502.12 306.80Z" fill="#ff0000"/><path d="M557.00 287.00V301.50" stroke="#ff0000" stroke-width="0.85"/><path d="M553.60 299.90H560.40L557.00 307.30Z" fill="#ff0000"/><g fill="#15151c"><path d="M401.40 350.50L401.40 347.20M401.40 350.50L401.40 353.80M401.40 350.50L404.52 348.91M401.40 350.50L398.28 348.91M401.40 350.50L404.52 352.09M401.40 350.50L398.28 352.09" stroke="#15151c" stroke-width="1.25" fill="none"/><circle cx="401.40" cy="347.20" r="1.0"/><circle cx="401.40" cy="353.80" r="1.0"/><circle cx="404.52" cy="348.91" r="1.0"/><circle cx="398.28" cy="348.91" r="1.0"/><circle cx="404.52" cy="352.09" r="1.0"/><circle cx="398.28" cy="352.09" r="1.0"/></g><g fill="#15151c"><path d="M452.20 350.50L452.20 347.20M452.20 350.50L452.20 353.80M452.20 350.50L455.32 348.91M452.20 350.50L449.08 348.91M452.20 350.50L455.32 352.09M452.20 350.50L449.08 352.09" stroke="#15151c" stroke-width="1.25" fill="none"/><circle cx="452.20" cy="347.20" r="1.0"/><circle cx="452.20" cy="353.80" r="1.0"/><circle cx="455.32" cy="348.91" r="1.0"/><circle cx="449.08" cy="348.91" r="1.0"/><circle cx="455.32" cy="352.09" r="1.0"/><circle cx="449.08" cy="352.09" r="1.0"/></g><g fill="#15151c"><path d="M462.90 350.50L462.90 347.20M462.90 350.50L462.90 353.80M462.90 350.50L466.02 348.91M462.90 350.50L459.78 348.91M462.90 350.50L466.02 352.09M462.90 350.50L459.78 352.09" stroke="#15151c" stroke-width="1.25" fill="none"/><circle cx="462.90" cy="347.20" r="1.0"/><circle cx="462.90" cy="353.80" r="1.0"/><circle cx="466.02" cy="348.91" r="1.0"/><circle cx="459.78" cy="348.91" r="1.0"/><circle cx="466.02" cy="352.09" r="1.0"/><circle cx="459.78" cy="352.09" r="1.0"/></g><path d="M617.30 283.50H634.40" stroke="#000" stroke-width="1.0"/><circle cx="625.85" cy="283.50" r="3.50" fill="#000"/><text transform="translate(643.40 288.30)" font-size="13.1" fill="#1a1a1a">Control</text><path d="M617.30 304.50H634.40" stroke="#000" stroke-width="1.0"/><rect x="622.25" y="300.90" width="7.2" height="7.2" fill="#000"/><text transform="translate(643.40 309.30)" font-size="13.1" fill="#1a1a1a">Low</text><path d="M617.30 325.50H634.40" stroke="#000" stroke-width="1.0"/><path d="M625.85 322.00 L629.15 328.90 L622.55 328.90Z" fill="#000"/><text transform="translate(643.40 330.30)" font-size="13.1" fill="#1a1a1a">High</text></g>
</svg>
</body></html>
